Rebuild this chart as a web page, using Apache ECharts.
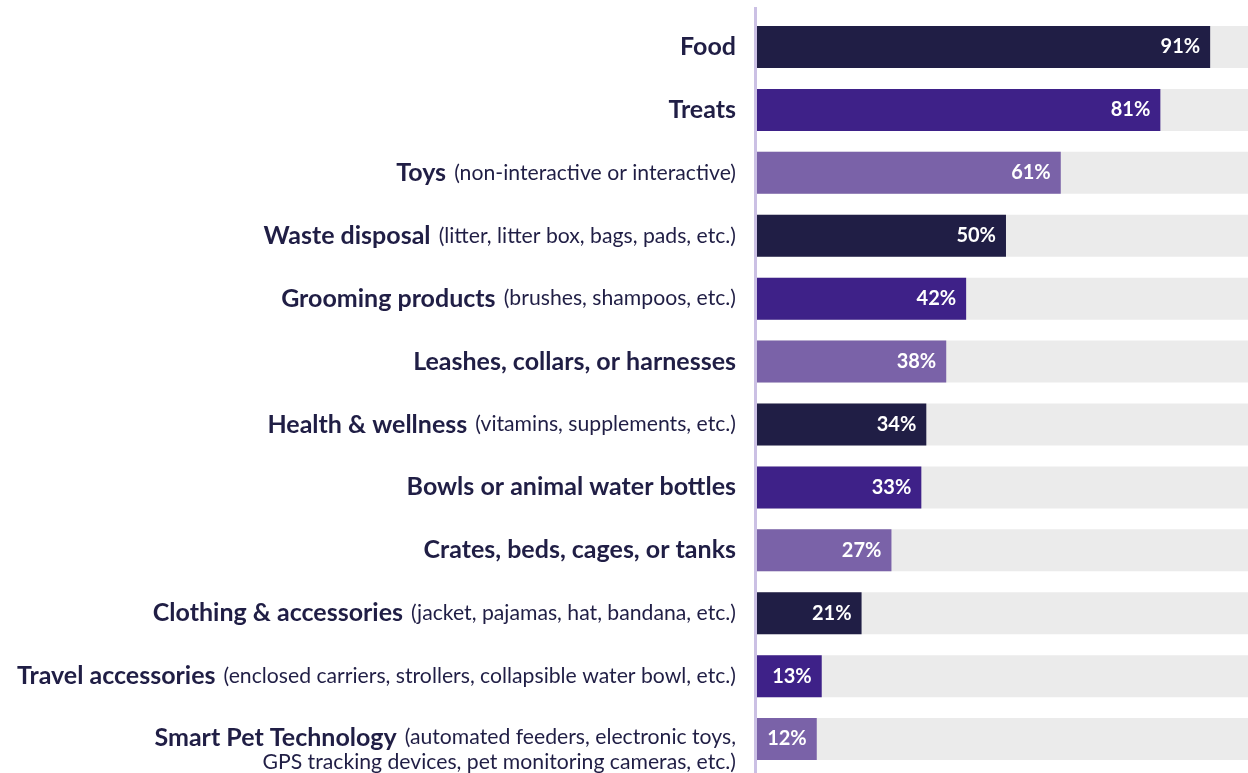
<!DOCTYPE html>
<html><head><meta charset="utf-8">
<script src="https://cdn.jsdelivr.net/npm/echarts@6/dist/echarts.min.js"></script>
<style>html,body{margin:0;padding:0;background:#fff}#c{width:1248px;height:773px}</style>
</head><body><div id="c"></div>
<script>
const names = ["Food","Treats","Toys","Waste disposal","Grooming products","Leashes, collars, or harnesses","Health & wellness","Bowls or animal water bottles","Crates, beds, cages, or tanks","Clothing & accessories","Travel accessories","Smart Pet Technology"];
const details = ["","","(non-interactive or interactive)","(litter, litter box, bags, pads, etc.)","(brushes, shampoos, etc.)","","(vitamins, supplements, etc.)","","","(jacket, pajamas, hat, bandana, etc.)","(enclosed carriers, strollers, collapsible water bowl, etc.)","(automated feeders, electronic toys,\nGPS tracking devices, pet monitoring cameras, etc.)"];
const values = [91,81,61,50,42,38,34,33,27,21,13,12];
const fullScale = [100,100,100,100,100,100,100,100,100,100,100,100];
const palette = ["#201e45","#3e2188","#7a62a8"];

const FONT = "Lato";
const cats = names.map((n,i)=>{
  const d = details[i];
  let text;
  if (!d) text = "{b|" + n + "}";
  else if (d.indexOf("\n")>=0) {
    const parts = d.split("\n");
    text = "{b|" + n + " }{r|" + parts[0] + "}\n{r|" + parts[1] + "}";
  } else text = "{b|" + n + " }{r|" + d + "}";
  const item = {value: text};
  if (d.indexOf("\n")>=0) item.textStyle = {padding:[22,0,0,0]};
  return item;
});

const chart = echarts.init(document.getElementById('c'));
chart.setOption({
  animation:false,
  grid:{left:757, top:15.5, bottom:1.5, right:0, containLabel:false},
  // the reference is cropped at the right edge: the 100% track runs past the frame
  xAxis:{type:'value', min:0, max:98.6, show:false},
  yAxis:{type:'category', inverse:true, data:cats,
    axisLine:{show:false}, axisTick:{show:false},
    axisLabel:{margin:21, align:'right', color:'#201e45',
      rich:{
        b:{fontFamily:FONT, fontWeight:'bold', fontSize:25, color:'#201e45', lineHeight:25},
        r:{fontFamily:FONT, fontSize:21.2, color:'#201e45', lineHeight:25, padding:[0,0,0,2]}
      }}
  },
  series:[
    {type:'bar', data:fullScale, barWidth:42, itemStyle:{color:'#ebebeb'}, silent:true, z:1, clip:true},
    {type:'bar', data:values.map((v,i)=>({value:v, itemStyle:{color:palette[i%3]}})), barWidth:42, barGap:'-100%', z:2,
      label:{show:true, position:'insideRight', distance:10, color:'#fff', fontFamily:FONT, fontWeight:'bold', fontSize:20,
        formatter:p=>p.value+'%'}}
  ],
  graphic:[{type:'rect', shape:{x:754, y:7, width:3, height:766}, style:{fill:'#cbc0e4'}, z:10}]
});
</script></body></html>
